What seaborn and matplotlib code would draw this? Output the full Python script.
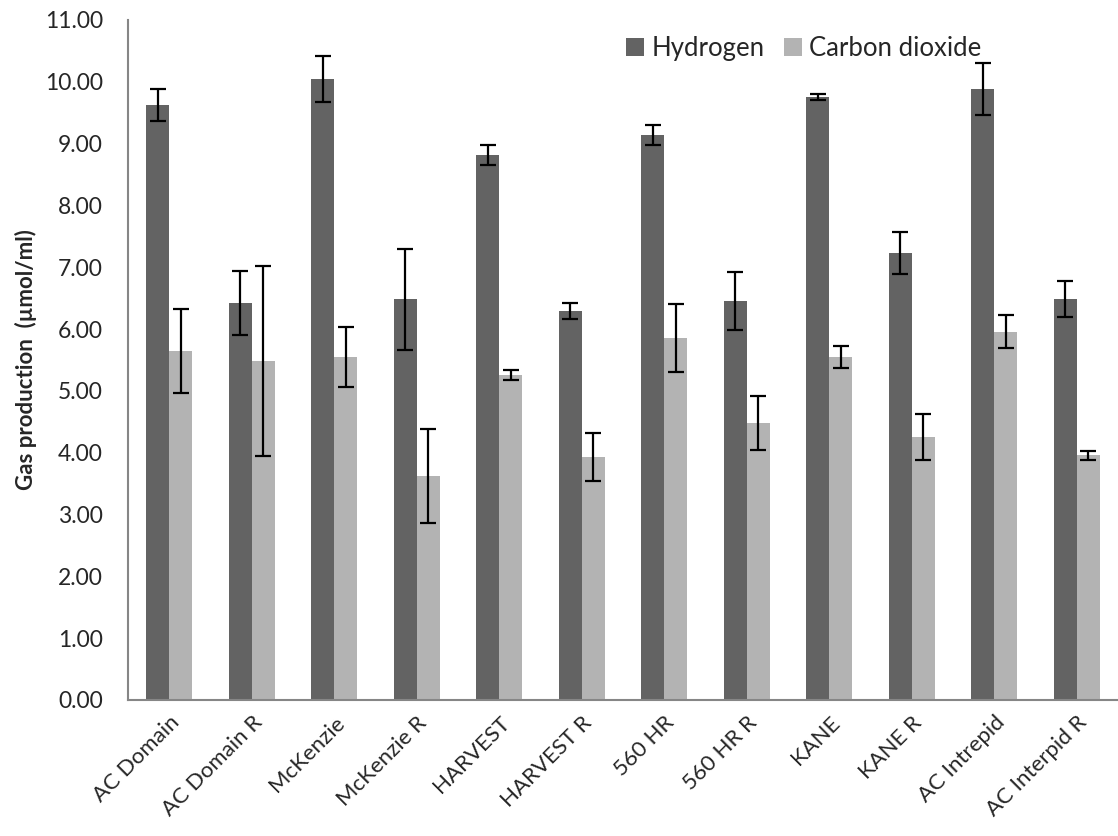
import matplotlib
matplotlib.use("Agg")
import matplotlib.pyplot as plt
import seaborn as sns
import pandas as pd
import numpy as np
from matplotlib.ticker import MultipleLocator, FormatStrFormatter

categories = ["AC Domain", "AC Domain R", "McKenzie", "McKenzie R", "HARVEST",
              "HARVEST R", "560 HR", "560 HR R", "KANE", "KANE R",
              "AC Intrepid", "AC Interpid R"]
hydrogen = [9.63, 6.42, 10.05, 6.48, 8.82, 6.29, 9.14, 6.45, 9.76, 7.23, 9.89, 6.48]
hydrogen_err = [0.26, 0.52, 0.37, 0.82, 0.16, 0.13, 0.16, 0.47, 0.05, 0.34, 0.42, 0.29]
co2 = [5.65, 5.48, 5.55, 3.63, 5.26, 3.93, 5.86, 4.48, 5.55, 4.25, 5.96, 3.96]
co2_err = [0.68, 1.54, 0.49, 0.76, 0.08, 0.39, 0.55, 0.44, 0.18, 0.37, 0.26, 0.07]
series = ["Hydrogen", "Carbon dioxide"]
colors = ["#636363", "#b3b3b3"]

df = pd.DataFrame({
    "cat": categories * 2,
    "gas": [series[0]] * len(categories) + [series[1]] * len(categories),
    "val": hydrogen + co2,
})
errs = [hydrogen_err, co2_err]

sns.set_style("white")
plt.rcParams["font.family"] = ["Lato", "DejaVu Sans"]

fig = plt.figure(figsize=(11.18, 8.36), dpi=100)
ax = fig.add_axes([0.1145, 0.1627, 0.8855, 0.8134])

sns.barplot(data=df, x="cat", y="val", hue="gas", order=categories,
            hue_order=series, palette=colors, width=0.56, saturation=1,
            errorbar=None, ax=ax, linewidth=0)

for cont, err in zip(ax.containers, errs):
    xs = [b.get_x() + b.get_width() / 2 for b in cont]
    ys = [b.get_height() for b in cont]
    ax.errorbar(xs, ys, yerr=err, fmt="none", ecolor="black",
                elinewidth=1.6, capsize=6, capthick=1.6, zorder=5)

ax.set_xlim(-0.5, len(categories) - 0.5)
ax.set_ylim(0, 11)
ax.yaxis.set_major_locator(MultipleLocator(1))
ax.yaxis.set_major_formatter(FormatStrFormatter("%.2f"))

ax.set_xticks(range(len(categories)))
ax.set_xticklabels(categories, rotation=45, ha="right", rotation_mode="anchor",
                   fontsize=16)
ax.set_xticks(np.arange(-0.5, len(categories), 1), minor=True)
ax.tick_params(axis="x", which="major", length=0, pad=9)
ax.tick_params(axis="x", which="minor", length=5, width=1.2, color="#868686",
               direction="out")
ax.tick_params(axis="y", which="major", length=6, width=1.2, color="#868686",
               direction="out", labelsize=16.5, pad=12)

for s in ["top", "right"]:
    ax.spines[s].set_visible(False)
for s in ["left", "bottom"]:
    ax.spines[s].set_color("#868686")
    ax.spines[s].set_linewidth(1.5)

ax.set_xlabel("")
ax.set_ylabel("Gas production  (µmol/ml)", fontsize=16, fontweight="bold",
              labelpad=6)

handles, labels = ax.get_legend_handles_labels()
leg = ax.legend(handles, labels, loc="upper left", bbox_to_anchor=(0.48, 1.01),
                ncol=2, frameon=False, fontsize=18.5, handlelength=0.7,
                handleheight=0.7, handletextpad=0.27, columnspacing=0.78)

fig.savefig("out.png", dpi=100)
